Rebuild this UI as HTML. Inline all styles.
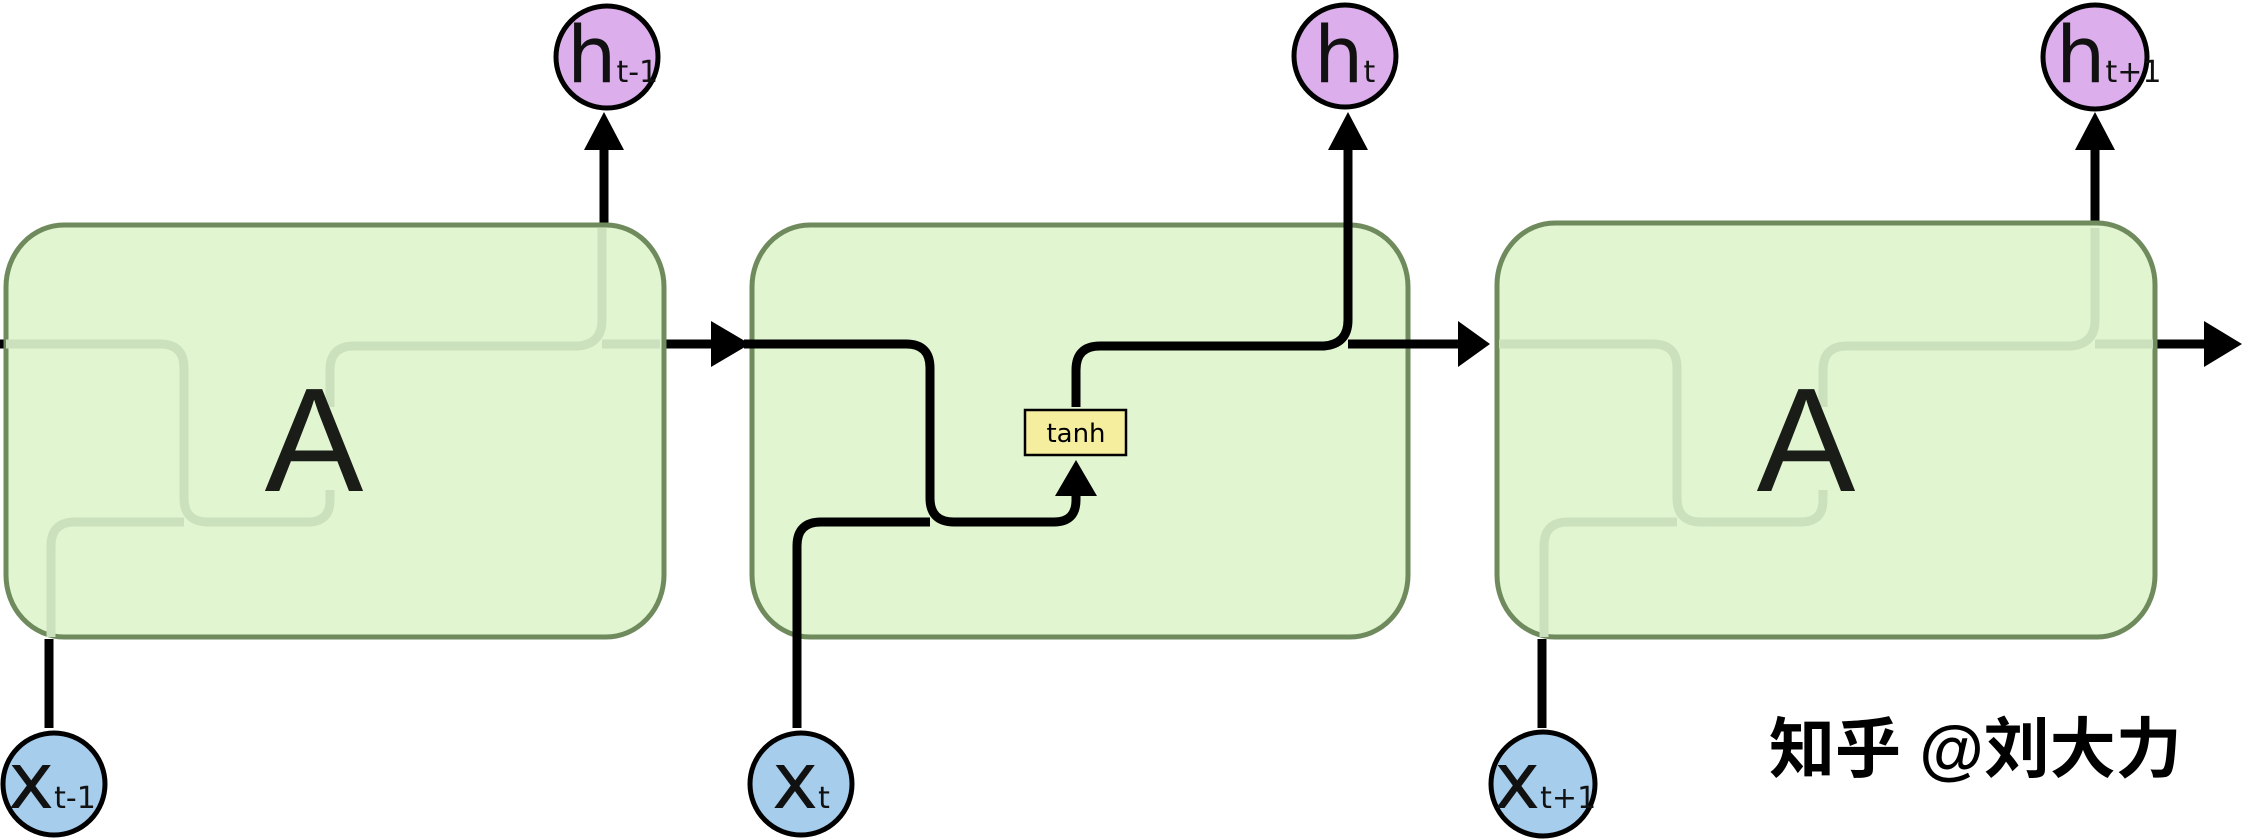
<!DOCTYPE html>
<html><head><meta charset="utf-8"><style>
html,body{margin:0;padding:0;background:#fff;}
svg{display:block;}
</style></head><body>
<svg width="2242" height="839" viewBox="0 0 2242 839" xmlns="http://www.w3.org/2000/svg">
<defs>
<g id="ghost" fill="none" stroke="#cbe0bc" stroke-width="9">
<path d="M752,344 H906 Q930,344 930,368 V498 Q930,522 954,522 H1054 Q1076,522 1076,500 V490"/>
<path d="M797,637 V546 Q797,522 821,522 H930"/>
<path d="M1076,407 V370 Q1076,346 1100,346 H1324 Q1348,344 1348,320 V228"/>
<path d="M1348,344 H1406"/>
</g>
</defs>
<g stroke="#000" stroke-width="9" fill="none">
<path d="M0,344 H6"/>
<path d="M604,225 V148"/>
<path d="M49,728 V639"/>
<path d="M666,344 H714"/>
<path d="M1410,344 H1462"/>
<path d="M2095,222 V148"/>
<path d="M1542,728 V639"/>
<path d="M2156,344 H2210"/>
</g>
<g fill="#000">
<polygon points="584,150 624,150 604,112"/>
<polygon points="711,321 711,367 750,344"/>
<polygon points="1458,321 1458,367 1490,344"/>
<polygon points="2075,150 2115,150 2095,112"/>
<polygon points="2204,321 2204,367 2242,344"/>
</g>

<rect x="6" y="225" width="658" height="412" rx="58" ry="62" fill="#e0f5d0" stroke="#6f8a5c" stroke-width="5"/>
<g transform="translate(-746,0)"><use href="#ghost"/></g>
<text x="314" y="491" font-family="Liberation Sans, sans-serif" font-size="148" fill="#1a1c18" text-anchor="middle">A</text>

<rect x="752" y="225" width="656" height="412" rx="58" ry="62" fill="#e0f5d0" stroke="#6f8a5c" stroke-width="5"/>
<g stroke="#000" stroke-width="9" fill="none">
<path d="M744,344 H906 Q930,344 930,368 V498 Q930,522 954,522 H1054 Q1076,522 1076,500 V490"/>
<path d="M797,728 V546 Q797,522 821,522 H930"/>
<path d="M1076,407 V370 Q1076,346 1100,346 H1324 Q1348,344 1348,320 V148"/>
<path d="M1348,344 H1412"/>
</g>
<polygon points="1055,496 1097,496 1076,460" fill="#000"/>
<polygon points="1328,150 1368,150 1348,112" fill="#000"/>
<rect x="1025" y="410" width="101" height="45" fill="#f5ee9e" stroke="#000" stroke-width="2.5"/>
<text x="1076" y="442" font-family="DejaVu Sans, sans-serif" font-size="26" fill="#000" text-anchor="middle">tanh</text>

<rect x="1497" y="223" width="658" height="414" rx="58" ry="62" fill="#e0f5d0" stroke="#6f8a5c" stroke-width="5"/>
<g transform="translate(747,0)"><use href="#ghost"/></g>
<text x="1806" y="491" font-family="Liberation Sans, sans-serif" font-size="148" fill="#1a1c18" text-anchor="middle">A</text>

<g stroke="#000" stroke-width="5" fill="#dcaeec">
<circle cx="607" cy="57" r="51"/>
<circle cx="1345" cy="56" r="51"/>
<circle cx="2095" cy="57" r="52"/>
</g>
<g stroke="#000" stroke-width="5" fill="#a6cdec">
<circle cx="54" cy="784" r="51"/>
<circle cx="801" cy="784" r="51"/>
<circle cx="1543" cy="784" r="52"/>
</g>
<g font-family="DejaVu Sans, sans-serif" fill="#111">
<text x="567" y="82" font-size="78">h<tspan font-size="30">t-1</tspan></text>
<text x="1314" y="82" font-size="78">h<tspan font-size="30">t</tspan></text>
<text x="2056" y="82" font-size="78">h<tspan font-size="30">t+1</tspan></text>
<text x="8" y="808" font-size="78">x<tspan font-size="30">t-1</tspan></text>
<text x="772" y="808" font-size="78">x<tspan font-size="30">t</tspan></text>
<text x="1494" y="808" font-size="78">x<tspan font-size="30">t+1</tspan></text>
</g>

<text x="1769" y="772" font-family="Liberation Sans, 'Noto Sans CJK SC', sans-serif" font-size="66" font-weight="bold" fill="#000">知乎 @刘大力</text>
</svg>
</body></html>
